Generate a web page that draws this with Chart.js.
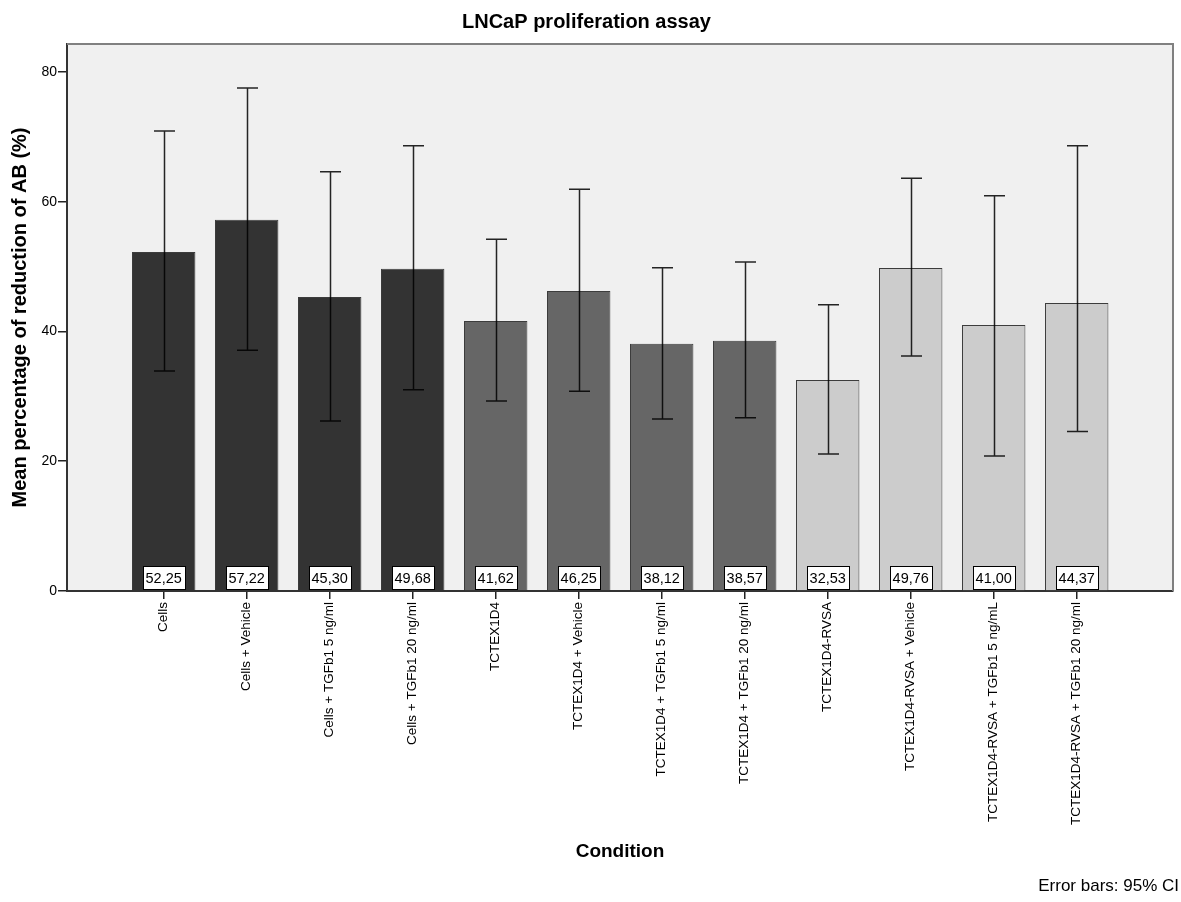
<!DOCTYPE html>
<html>
<head>
<meta charset="utf-8">
<title>LNCaP proliferation assay</title>
<script src="https://cdn.jsdelivr.net/npm/chart.js@4/dist/chart.umd.min.js"></script>
<style>
  html, body { margin: 0; padding: 0; background: #ffffff; }
  #wrap { width: 1181px; height: 902px; }
</style>
</head>
<body>
<div id="wrap"><canvas id="chart" width="1181" height="902"></canvas></div>
<script>
// Conditions (x axis categories)
const categories = [
  'Cells',
  'Cells + Vehicle',
  'Cells + TGFb1 5 ng/ml',
  'Cells + TGFb1 20 ng/ml',
  'TCTEX1D4',
  'TCTEX1D4 + Vehicle',
  'TCTEX1D4 + TGFb1 5 ng/ml',
  'TCTEX1D4 + TGFb1 20 ng/ml',
  'TCTEX1D4-RVSA',
  'TCTEX1D4-RVSA + Vehicle',
  'TCTEX1D4-RVSA + TGFb1 5 ng/mL',
  'TCTEX1D4-RVSA + TGFb1 20 ng/ml'
];

// Cell line each condition belongs to
const groups = [
  'Cells', 'Cells', 'Cells', 'Cells',
  'TCTEX1D4', 'TCTEX1D4', 'TCTEX1D4', 'TCTEX1D4',
  'TCTEX1D4-RVSA', 'TCTEX1D4-RVSA', 'TCTEX1D4-RVSA', 'TCTEX1D4-RVSA'
];

// Mean percentage of reduction of AB (%)
const means = [52.25, 57.22, 45.30, 49.68, 41.62, 46.25, 38.12, 38.57, 32.53, 49.76, 41.00, 44.37];

// 95% confidence interval bounds
const ciLower = [33.9, 37.1, 26.2, 31.0, 29.3, 30.8, 26.5, 26.7, 21.1, 36.2, 20.8, 24.6];
const ciUpper = [70.9, 77.5, 64.6, 68.6, 54.2, 61.9, 49.8, 50.7, 44.1, 63.6, 60.9, 68.6];

// Y axis tick values
const yTicks = [0, 20, 40, 60, 80];

const groupColors = {
  'Cells': '#333333',
  'TCTEX1D4': '#666666',
  'TCTEX1D4-RVSA': '#cccccc'
};
const FAMILY = "'Liberation Sans', Arial, Helvetica, sans-serif";

// Grey plot background plus the light top/right frame
const plotFrame = {
  id: 'plotFrame',
  beforeDraw(chart) {
    const { ctx, chartArea: a } = chart;
    ctx.save();
    ctx.fillStyle = '#f0f0f0';
    ctx.fillRect(a.left, a.top, a.right - a.left, a.bottom - a.top);
    ctx.restore();
  },
  afterDraw(chart) {
    const { ctx, chartArea: a } = chart;
    ctx.save();
    ctx.strokeStyle = '#808080';
    ctx.lineWidth = 2;
    ctx.beginPath();
    ctx.moveTo(a.left, a.top);
    ctx.lineTo(a.right, a.top);
    ctx.lineTo(a.right, a.bottom);
    ctx.stroke();
    ctx.restore();
  }
};

// 95% CI whiskers with caps
const errorBars = {
  id: 'errorBars',
  afterDatasetsDraw(chart) {
    const { ctx } = chart;
    const yScale = chart.scales.y;
    const meta = chart.getDatasetMeta(0);
    ctx.save();
    ctx.strokeStyle = 'rgba(0,0,0,0.85)';
    ctx.lineWidth = 1.5;
    meta.data.forEach((bar, i) => {
      const x = Math.round(bar.x) + 0.5;
      const yTop = yScale.getPixelForValue(ciUpper[i]);
      const yBot = yScale.getPixelForValue(ciLower[i]);
      const half = 10.5;
      ctx.beginPath();
      ctx.moveTo(x, yTop);
      ctx.lineTo(x, yBot);
      ctx.moveTo(x - half, yTop);
      ctx.lineTo(x + half, yTop);
      ctx.moveTo(x - half, yBot);
      ctx.lineTo(x + half, yBot);
      ctx.stroke();
    });
    ctx.restore();
  }
};

// Boxed mean value at the foot of each bar
const valueLabels = {
  id: 'valueLabels',
  afterDatasetsDraw(chart) {
    const { ctx } = chart;
    const yScale = chart.scales.y;
    const meta = chart.getDatasetMeta(0);
    const base = yScale.getPixelForValue(0);
    ctx.save();
    ctx.font = '14.5px ' + FAMILY;
    ctx.textAlign = 'center';
    ctx.textBaseline = 'middle';
    meta.data.forEach((bar, i) => {
      const text = means[i].toFixed(2).replace('.', ',');
      const w = Math.round(ctx.measureText(text).width + 6);
      const h = 23;
      const x0 = Math.round(bar.x - w / 2) + 0.5;
      const y0 = Math.round(base - 2 - h) + 0.5;
      ctx.fillStyle = '#ffffff';
      ctx.fillRect(x0, y0, w, h);
      ctx.strokeStyle = '#000000';
      ctx.lineWidth = 1;
      ctx.strokeRect(x0, y0, w, h);
      ctx.fillStyle = '#000000';
      ctx.fillText(text, bar.x, y0 + h / 2 + 0.5);
    });
    ctx.restore();
  }
};

// Footnote in the lower right corner
const footnote = {
  id: 'footnote',
  afterDraw(chart) {
    const { ctx } = chart;
    ctx.save();
    ctx.font = '17px ' + FAMILY;
    ctx.fillStyle = '#000000';
    ctx.textAlign = 'right';
    ctx.textBaseline = 'middle';
    ctx.fillText('Error bars: 95% CI', 1179, 886);
    ctx.restore();
  }
};

new Chart(document.getElementById('chart'), {
  type: 'bar',
  data: {
    datasets: [{
      label: 'Mean percentage of reduction of AB (%)',
      data: means.map((m, i) => ({ x: i, y: m })),
      backgroundColor: groups.map(g => groupColors[g]),
      borderColor: 'rgba(0,0,0,0.75)',
      borderWidth: 1,
      categoryPercentage: 1,
      barPercentage: 0.764
    }]
  },
  options: {
    responsive: false,
    animation: false,
    devicePixelRatio: 1,
    layout: { padding: { left: 0, right: 8, top: 0, bottom: 30 } },
    plugins: {
      legend: { display: false },
      tooltip: { enabled: false },
      title: {
        display: true,
        text: 'LNCaP proliferation assay',
        color: '#000000',
        font: { family: FAMILY, size: 20, weight: 'bold', lineHeight: 1.2 },
        padding: { top: 10, bottom: 10 }
      }
    },
    scales: {
      x: {
        type: 'linear',
        min: -1.165,
        max: 12.16,
        offset: false,
        afterBuildTicks: s => { s.ticks = categories.map((_, i) => ({ value: i })); },
        afterFit: s => { s.height = 281; },
        ticks: {
          autoSkip: false,
          minRotation: 90,
          maxRotation: 90,
          color: '#000000',
          padding: 3,
          font: { family: FAMILY, size: 13.5 },
          callback: v => categories[v]
        },
        grid: { offset: false, drawOnChartArea: false, drawTicks: true, tickLength: 8, color: '#222222', lineWidth: 1.5 },
        border: { display: true, color: '#333333', width: 2 },
        title: {
          display: true,
          text: 'Condition',
          color: '#000000',
          font: { family: FAMILY, size: 19, weight: 'bold' },
          padding: { top: 0, bottom: 9 }
        }
      },
      y: {
        min: 0,
        max: 84.3,
        afterBuildTicks: s => { s.ticks = yTicks.map(v => ({ value: v })); },
        afterFit: s => { s.width = 67; },
        ticks: {
          color: '#000000',
          padding: 1,
          font: { family: FAMILY, size: 14 }
        },
        grid: { drawOnChartArea: false, drawTicks: true, tickLength: 9, color: '#222222', lineWidth: 1.5 },
        border: { display: true, color: '#333333', width: 2 },
        title: {
          display: true,
          text: 'Mean percentage of reduction of AB (%)',
          color: '#000000',
          font: { family: FAMILY, size: 20, weight: 'bold' },
          padding: { top: 8 }
        }
      }
    }
  },
  plugins: [plotFrame, errorBars, valueLabels, footnote]
});
</script>
</body>
</html>
